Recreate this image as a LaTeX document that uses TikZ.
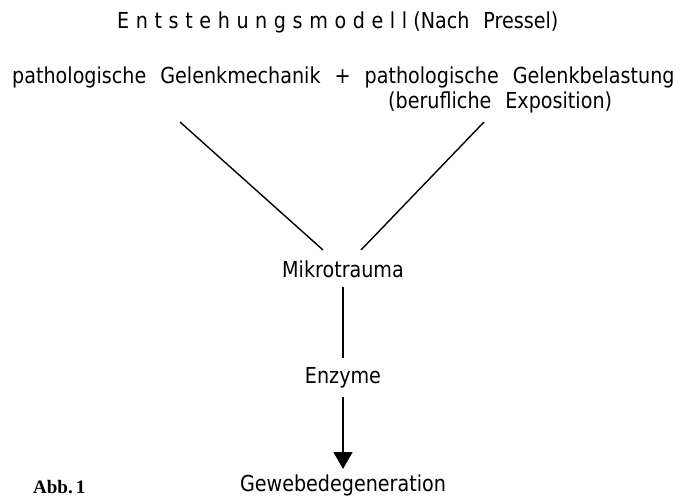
\documentclass[tikz,border=0pt]{standalone}
\usepackage{fontspec}
\setmainfont[FakeStretch=0.87]{DejaVu Sans}
\newfontfamily\abbfont{Liberation Serif}
\usetikzlibrary{arrows.meta}
\newcommand\widesp{\spaceskip=14pt\relax}

\begin{document}
\begin{tikzpicture}[x=1pt,y=-1pt,
		txt/.style={inner sep=0pt, font=\fontsize{22}{26}\selectfont},
		conn/.style={line width=1.4pt}]
		\useasboundingbox (0,0) rectangle (688,496);
		% Ueberschrift
		\node[txt, anchor=base west] (title) at (117,28) {{\addfontfeature{LetterSpace=30}Entstehungsmodell} \widesp(Nach Pressel)};
		\node[txt, anchor=base west] (causes) at (12,83) {\widesp pathologische Gelenkmechanik + pathologische Gelenkbelastung};
		\node[txt, anchor=base west] (expo) at (388,108) {\widesp (berufliche Exposition)};
		% Kette
		\node[txt, anchor=base] (mikro) at (343,277) {Mikrotrauma};
		\node[txt, anchor=base, inner ysep=9pt] (enzyme) at (343,383) {Enzyme};
		\node[txt, anchor=base] (gewebe) at (343,491) {Gewebedegeneration};
		\node[inner sep=0pt, anchor=base west, font=\abbfont\bfseries\fontsize{19}{22}\selectfont] (abb) at (33,493) {Abb.\,1};
		\coordinate (mechFoot) at (180,122);
		\coordinate (belFoot) at (484,122);
		\coordinate (mikroL) at (323,250);
		\coordinate (mikroR) at (361,250);
		\coordinate (mikroFoot) at (343,287);
		\coordinate (tip) at (343,469);
		\draw[conn] (mechFoot) -- (mikroL);
		\draw[conn] (belFoot) -- (mikroR);
		\draw[conn] (mikroFoot) -- (enzyme.north);
		\draw[conn, -{Triangle[width=19pt,length=17pt]}] (enzyme.south) -- (tip);
\end{tikzpicture}
\end{document}
